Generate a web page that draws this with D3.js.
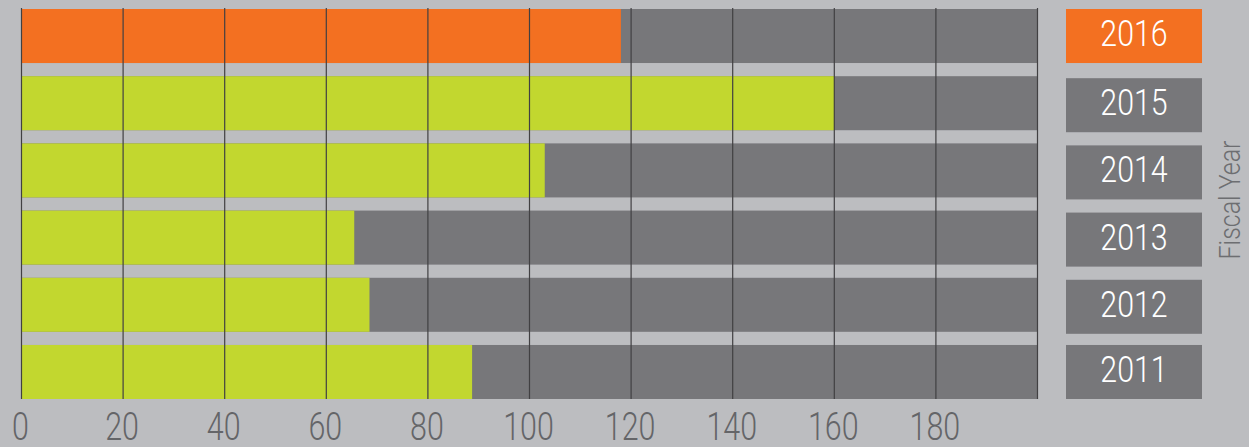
<!DOCTYPE html>
<html>
<head>
<meta charset="utf-8">
<script src="https://cdn.jsdelivr.net/npm/d3@7"></script>
<style>
  html, body { margin: 0; padding: 0; background: #bcbdc0; }
  svg { display: block; }
</style>
</head>
<body>
<script>
// ---------- DATA ----------
var years = ["2016", "2015", "2014", "2013", "2012", "2011"];
var values = [118, 160, 103, 65.5, 68.5, 88.7];
var highlightYear = "2016";
var tickValues = [0, 20, 40, 60, 80, 100, 120, 140, 160, 180];
var gridValues = [0, 20, 40, 60, 80, 100, 120, 140, 160, 180, 200];
var axisMax = 200;
var axisTitle = "Fiscal Year";

// ---------- DIMENSIONS ----------
var w = 1249, h = 447;
var fontFam = "Roboto, 'DejaVu Sans Condensed', sans-serif";

var x = d3.scaleLinear().domain([0, axisMax]).range([21.5, 1037.5]);
var y = d3.scaleBand().domain(years).range([9, 399]).paddingInner(0.196).paddingOuter(0);

var svg = d3.select("body").append("svg")
  .attr("width", w)
  .attr("height", h);

svg.append("rect")
  .attr("width", w).attr("height", h)
  .attr("fill", "#bcbdc0");

// background bars (full range)
svg.selectAll("rect.bg")
  .data(years)
  .enter().append("rect")
  .attr("class", "bg")
  .attr("x", x(0))
  .attr("y", d => y(d))
  .attr("width", x(axisMax) - x(0))
  .attr("height", y.bandwidth())
  .attr("fill", "#77777a");

// value bars
svg.selectAll("rect.val")
  .data(years)
  .enter().append("rect")
  .attr("class", "val")
  .attr("x", x(0))
  .attr("y", d => y(d))
  .attr("width", (d, i) => x(values[i]) - x(0))
  .attr("height", y.bandwidth())
  .attr("fill", d => d === highlightYear ? "#f37021" : "#c2d72f");

// vertical gridlines
svg.selectAll("line.grid")
  .data(gridValues)
  .enter().append("line")
  .attr("class", "grid")
  .attr("x1", d => x(d)).attr("x2", d => x(d))
  .attr("y1", 8).attr("y2", 399)
  .attr("stroke", "#414042")
  .attr("stroke-width", 1.2);

// x axis tick labels (squeezed horizontally to mimic condensed face)
svg.selectAll("text.tick")
  .data(tickValues)
  .enter().append("text")
  .attr("class", "tick")
  .attr("transform", d => "translate(" + (x(d) - 1) + ",440) scale(0.8,1)")
  .attr("text-anchor", "middle")
  .attr("font-family", fontFam)
  .attr("font-weight", 300)
  .attr("font-size", "38px")
  .attr("fill", "#646568")
  .text(d => d);

// year label boxes
var boxX = 1066, boxW = 136;
var labels = svg.selectAll("g.lab")
  .data(years)
  .enter().append("g")
  .attr("class", "lab")
  .attr("transform", (d, i) => "translate(0," + (y(d) + (i > 0 && i < 5 ? 2 : 0)) + ")");

labels.append("rect")
  .attr("x", boxX)
  .attr("y", 0)
  .attr("width", boxW)
  .attr("height", y.bandwidth())
  .attr("fill", d => d === highlightYear ? "#f37021" : "#77777a");

labels.append("text")
  .attr("transform", "translate(" + (boxX + boxW / 2) + "," + (y.bandwidth() / 2 + 10) + ") scale(0.82,1)")
  .attr("text-anchor", "middle")
  .attr("font-family", fontFam)
  .attr("font-weight", 300)
  .attr("font-size", "37px")
  .attr("fill", "#ffffff")
  .text(d => d);

// axis title
svg.append("text")
  .attr("transform", "translate(1240,200) rotate(-90) scale(0.86,1)")
  .attr("text-anchor", "middle")
  .attr("font-family", fontFam)
  .attr("font-weight", 300)
  .attr("font-size", "29px")
  .attr("fill", "#6d6e71")
  .text(axisTitle);
</script>
</body>
</html>
